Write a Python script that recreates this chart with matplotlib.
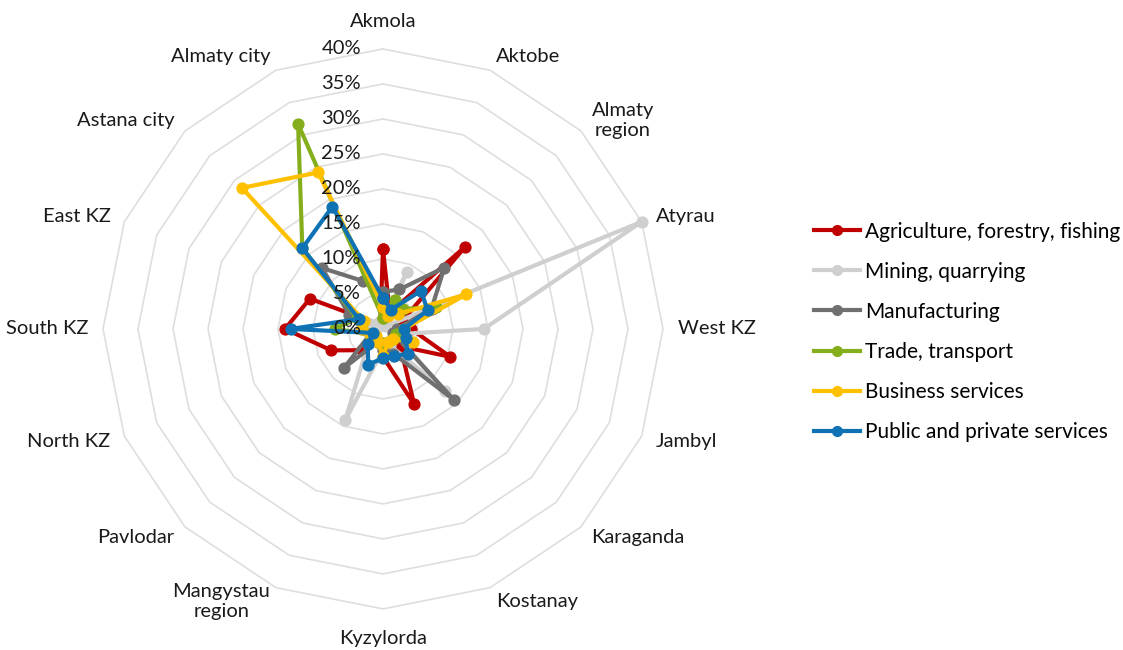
import numpy as np
import matplotlib
matplotlib.use('Agg')
import matplotlib.pyplot as plt

plt.rcParams['font.family'] = ['Lato', 'DejaVu Sans']

# Regions, clockwise from the top
regions = ['Akmola', 'Aktobe', 'Almaty\nregion', 'Atyrau', 'West KZ', 'Jambyl',
           'Karaganda', 'Kostanay', 'Kyzylorda', 'Mangystau\nregion', 'Pavlodar',
           'North KZ', 'South KZ', 'East KZ', 'Astana city', 'Almaty city']

# Share of each sector by region (%)
agriculture = [11.4, 2.5, 16.6, 3.0, 4.0, 10.4, 3.5, 11.6, 4.0, 2.0, 4.3, 8.0, 14.0, 11.3, 1.0, 1.0]
mining = [1.0, 8.8, 0.5, 40.0, 14.4, 2.0, 12.5, 2.5, 3.0, 14.1, 3.0, 2.0, 1.0, 2.0, 1.0, 1.0]
manufacturing = [5.3, 6.1, 12.4, 7.5, 2.0, 1.5, 14.3, 3.8, 3.0, 2.0, 7.9, 2.0, 3.0, 5.2, 12.3, 7.4]
trade = [1.5, 4.4, 4.0, 8.2, 3.0, 2.0, 2.0, 2.0, 2.0, 2.0, 2.0, 2.0, 6.9, 4.0, 16.3, 31.7]
business = [3.2, 2.0, 3.0, 12.9, 3.0, 4.7, 2.0, 2.0, 3.8, 2.0, 1.5, 2.0, 3.0, 2.9, 28.5, 24.2]
public = [4.4, 3.0, 7.7, 6.9, 3.0, 3.5, 5.0, 4.2, 4.2, 5.5, 3.1, 1.5, 13.2, 3.7, 16.3, 18.9]

series_names = ['Agriculture, forestry, fishing', 'Mining, quarrying', 'Manufacturing',
                'Trade, transport', 'Business services', 'Public and private services']
series_values = [agriculture, mining, manufacturing, trade, business, public]
series_colors = ['#C00000', '#CFCFCF', '#707070', '#84AE1C', '#FFC000', '#0E72B5']

rings = [0, 5, 10, 15, 20, 25, 30, 35, 40]
RMAX = 40
GRID = '#DEDEDE'
TEXT = '#1A1A1A'

fig = plt.figure(figsize=(11.23, 6.5), dpi=100)
ax = fig.add_axes([0.0917, 0.0632, 0.4987, 0.8615], projection='polar')
ax.set_theta_zero_location('N')
ax.set_theta_direction(-1)
ax.set_ylim(0, RMAX)
ax.axis('off')

n = len(regions)
theta = np.arange(n) * 2 * np.pi / n
theta_closed = np.append(theta, theta[0])

# polygon rings (no spokes, like Excel's radar)
for r in rings[1:]:
    ax.plot(theta_closed, [r] * (n + 1), color=GRID, lw=1.2, zorder=1, clip_on=False)

# series
for name, vals, col in zip(series_names, series_values, series_colors):
    v = np.append(vals, vals[0])
    ax.plot(theta_closed, v, color=col, lw=3, marker='o', ms=7.8,
            label=name, zorder=3, clip_on=False)

# radial tick labels, drawn over the lines
for r in rings:
    ax.annotate('%d%%' % r, xy=(0, r), xytext=(-22, 0), textcoords='offset pixels',
                ha='right', va='center', fontsize=14.5, color=TEXT, zorder=5)

# category labels
for t, lab in zip(theta, regions):
    s, c = np.sin(t), np.cos(t)
    if abs(s) < 0.1:
        d = 19 if c > 0 else 21
        ha = 'center'
        va = 'bottom' if c > 0 else 'top'
    else:
        d = 15
        ha = 'left' if s > 0 else 'right'
        va = 'center'
    ax.annotate(lab, xy=(t, RMAX), xytext=(d * s, d * c), textcoords='offset pixels',
                ha=ha, va=va, fontsize=14.5, color=TEXT, multialignment='center',
                annotation_clip=False)

fig.legend(loc='upper left', bbox_to_anchor=(0.708, 0.688), frameon=False,
           fontsize=15, handlelength=2.2, handletextpad=0.25, labelspacing=0.965,
           markerscale=0.9)

fig.savefig('out.png', dpi=100)
